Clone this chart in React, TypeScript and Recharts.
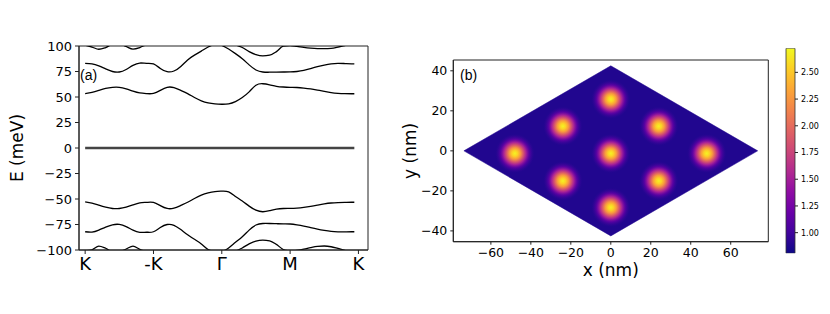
import React from 'react';
import {
  LineChart, Line, XAxis, YAxis, ReferenceArea, ComposedChart, Area, Scatter, BarChart, Bar,
} from 'recharts';

// ---------- Panel (a): band structure ----------
const kPoints = [0, 0.1, 0.2, 0.3, 0.4, 0.5, 0.6, 0.7, 0.8, 0.9, 1.0, 1.1, 1.2, 1.3, 1.4, 1.5, 1.6, 1.7, 1.8, 1.9, 2.0,
  2.1, 2.2, 2.3, 2.4, 2.5, 2.6, 2.7, 2.8, 2.9, 3.0, 3.1, 3.2, 3.3, 3.4, 3.5, 3.6, 3.7, 3.8, 3.9, 3.94];
const bandUp1 = [53.3, 54.5, 56.5, 58.5, 59.5, 59.5, 58, 55.8, 54, 53.3, 53.5, 56.5, 59.5, 59.2, 56.5, 53.3, 49.5, 46.3, 44.2, 43.2, 42.9,
  43.3, 45.5, 49.5, 55, 61.5, 63, 62, 60.5, 59.8, 59.5, 59.3, 58.8, 58, 56.8, 55.5, 54.3, 53.6, 53.3, 53.2, 53.2];
const bandUp2 = [83, 82.5, 80.5, 77.5, 75, 74.5, 77, 81, 83.3, 83, 82.4, 78, 74.8, 75.5, 80, 86.3, 91, 95, 99, 101.5, 100.5,
  97, 92.5, 87.5, 81.5, 76.5, 74.5, 74.3, 74.4, 74.5, 74.6, 75, 76, 77.8, 79.7, 81.3, 82.5, 83, 82.8, 82.5, 82.4];
const bandUp3 = [100.8, 99, 96.8, 98.5, 101.5, 102, 99.5, 97, 98.5, 101.5, 104, 108, 110, 110, 110, 110, 110, 110, 110, 110, 110,
  108, 101.5, 98.5, 94.5, 91.5, 90.3, 91, 94.5, 99.8, 100.4, 99.6, 98.6, 97.9, 97.5, 97.4, 97.7, 98.9, 100.5, 101.5, 101.5];
const flatBand = [0, 0, 0, 0, 0, 0, 0, 0, 0, 0, 0, 0, 0, 0, 0, 0, 0, 0, 0, 0, 0,
  0, 0, 0, 0, 0, 0, 0, 0, 0, 0, 0, 0, 0, 0, 0, 0, 0, 0, 0, 0];
const bandDn1 = [-52.8, -54, -56, -58, -59.3, -59.3, -58, -55.8, -53.8, -53.3, -53.4, -56.5, -59.3, -59, -56.3, -53.2, -49.5, -46.2, -44, -42.7, -42.3,
  -43, -47.5, -52, -57, -61, -62.5, -61.5, -60, -59.3, -59.2, -58.9, -58.2, -57.2, -56, -54.8, -53.9, -53.5, -53.3, -53.2, -53.2];
const bandDn2 = [-82.1, -82.5, -80.5, -77.5, -75.3, -74.9, -77, -80.5, -82.7, -82.6, -82.1, -78, -75, -75.8, -80, -85, -89.5, -94, -99.5, -101.5, -101.5,
  -98, -92.5, -87, -80.5, -75.5, -74, -74, -74.2, -74.4, -74.5, -75.3, -76.5, -78, -79.5, -80.8, -81.8, -82.2, -82.2, -82.1, -82.1];
const bandDn3 = [-100.8, -99.8, -96.2, -98.3, -101.5, -101.5, -99, -96.2, -99.3, -102, -104, -108, -110, -110, -110, -110, -110, -110, -110, -110, -110,
  -108, -101.5, -98, -94, -91.2, -90.3, -91, -94.5, -99.5, -100.8, -100.3, -99.2, -97.6, -96.4, -96.1, -96.8, -98.5, -100.3, -101.5, -101.5];
const kTicks = [0, 1, 2, 3, 4];
const kTickLabels = ['K', '-K', 'Γ', 'M', 'K'];
const energyTicks = [-100, -75, -50, -25, 0, 25, 50, 75, 100];

const bandTable = kPoints.map((k, i) => ({
  k,
  u1: bandUp1[i], u2: bandUp2[i], u3: bandUp3[i], z: flatBand[i],
  d1: bandDn1[i], d2: bandDn2[i], d3: bandDn3[i],
}));

// ---------- Panel (b): density map ----------
const rhombusX = [-73.5, 0, 73.5];
const rhombusLow = [0, -42.5, 0];
const rhombusHigh = [0, 42.5, 0];
const spotX = [0, -24, 24, -48, 0, 48, -24, 24, 0];
const spotY = [25.8, 12.3, 12.3, -1.3, -1.3, -1.3, -15, -15, -28.3];
const spotPeak = [2.65, 2.65, 2.65, 2.65, 2.65, 2.65, 2.65, 2.65, 2.65];
const xTicksNm = [-60, -40, -20, 0, 20, 40, 60];
const yTicksNm = [-40, -20, 0, 20, 40];

const rhombusTable = rhombusX.map((x, i) => ({ x, low: rhombusLow[i], high: rhombusHigh[i] }));
const spotTable = spotX.map((x, i) => ({ x, y: spotY[i], v: spotPeak[i] }));

// ---------- Colorbar ----------
const cbarMin = 0.807;
const cbarMax = 2.725;
const cbarTicks = [1.0, 1.25, 1.5, 1.75, 2.0, 2.25, 2.5];
const cbarTable = [{ name: 'cb', range: [cbarMin, cbarMax] }];

const plasmaStops = ['#0d0887', '#41049d', '#6a00a8', '#8f0da4', '#b12a90', '#cc4778', '#e16462', '#f2844b', '#fca636', '#fcce25', '#f0f921'];

const minus = (v: number) => (v < 0 ? '\u2212' + Math.abs(v) : String(v));
const DV = 'DejaVu Sans';

const SpotShape = (props: any) => {
  const { cx, cy } = props;
  if (cx == null || cy == null) return null;
  return <circle cx={cx} cy={cy} r={20} fill="url(#spotGrad)" />;
};

export default function App() {
  return (
    <div style={{ position: 'absolute', left: 0, top: 0, width: 830, height: 314, background: '#fff', overflow: 'hidden' }}>
      <svg width={0} height={0} style={{ position: 'absolute' }}>
        <defs>
          <linearGradient id="plasmaV" x1="0" y1="1" x2="0" y2="0">
            {plasmaStops.map((c, i) => (
              <stop key={i} offset={`${i * 10}%`} stopColor={c} />
            ))}
          </linearGradient>
          <radialGradient id="spotGrad" cx="50%" cy="50%" r="50%">
            <stop offset="0%" stopColor="#f3f424" />
            <stop offset="14%" stopColor="#fcd225" />
            <stop offset="28%" stopColor="#f89a3e" />
            <stop offset="42%" stopColor="#d8576b" />
            <stop offset="56%" stopColor="#a62098" />
            <stop offset="72%" stopColor="#6a00a8" stopOpacity={0.75} />
            <stop offset="88%" stopColor="#41049d" stopOpacity={0.35} />
            <stop offset="100%" stopColor="#21068f" stopOpacity={0} />
          </radialGradient>
        </defs>
      </svg>

      {/* Panel (a) */}
      <div style={{ position: 'absolute', left: 0, top: 0 }}>
        <LineChart width={380} height={300} data={bandTable} margin={{ top: 46, right: 12, bottom: 20, left: 0 }}>
          <XAxis
            type="number" dataKey="k" domain={[-0.09, 4.14]} ticks={kTicks} allowDataOverflow
            tickFormatter={(v: number, i: number) => kTickLabels[i]}
            tick={{ fill: '#000', fontSize: 18, fontFamily: DV }} tickSize={4} tickMargin={3}
            axisLine={{ stroke: '#222' }} tickLine={{ stroke: '#222' }} height={30}
          />
          <YAxis
            type="number" domain={[-100, 100]} ticks={energyTicks} allowDataOverflow width={79}
            tickFormatter={minus}
            tick={{ fill: '#000', fontSize: 13, fontFamily: DV }} tickSize={4} tickMargin={3}
            axisLine={{ stroke: '#222' }} tickLine={{ stroke: '#222' }}
            label={{ value: 'E (meV)', angle: -90, position: 'center', dx: -22.5, style: { fontSize: 17, fill: '#000', fontFamily: DV } }}
          />
          <ReferenceArea
            x1={-0.09} x2={4.14} y1={-100} y2={100} fill="none" stroke="#222" strokeWidth={1} ifOverflow="visible"
            label={{ value: '(a)', position: 'insideTopLeft', offset: 0, dx: 1, dy: 24.5, style: { fontSize: 14, fill: '#000', fontFamily: 'Liberation Sans' } }}
          />
          <Line dataKey="z" type="linear" stroke="#444" strokeWidth={2.3} dot={false} isAnimationActive={false} />
          <Line dataKey="u1" type="natural" stroke="#000" strokeWidth={1.3} dot={false} isAnimationActive={false} />
          <Line dataKey="u2" type="natural" stroke="#000" strokeWidth={1.3} dot={false} isAnimationActive={false} />
          <Line dataKey="u3" type="monotone" stroke="#000" strokeWidth={1.3} dot={false} isAnimationActive={false} />
          <Line dataKey="d1" type="natural" stroke="#000" strokeWidth={1.3} dot={false} isAnimationActive={false} />
          <Line dataKey="d2" type="natural" stroke="#000" strokeWidth={1.3} dot={false} isAnimationActive={false} />
          <Line dataKey="d3" type="monotone" stroke="#000" strokeWidth={1.3} dot={false} isAnimationActive={false} />
        </LineChart>
      </div>

      {/* Panel (b) */}
      <div style={{ position: 'absolute', left: 400, top: 0 }}>
        <ComposedChart width={380} height={300} data={rhombusTable} margin={{ top: 60, right: 11.7, bottom: 0, left: 0 }}>
          <XAxis
            type="number" dataKey="x" domain={[-78.8, 78.8]} ticks={xTicksNm} allowDataOverflow height={58.3}
            tickFormatter={minus}
            tick={{ fill: '#000', fontSize: 12.5, fontFamily: DV }} tickSize={3} tickMargin={3}
            axisLine={{ stroke: '#222' }} tickLine={{ stroke: '#222' }}
            label={{ value: 'x (nm)', position: 'center', dy: -1, style: { fontSize: 17, fill: '#000', fontFamily: DV } }}
          />
          <YAxis
            type="number" dataKey="y" domain={[-45.4, 45.4]} ticks={yTicksNm} allowDataOverflow width={53.3}
            tickFormatter={minus}
            tick={{ fill: '#000', fontSize: 12.5, fontFamily: DV }} tickSize={3} tickMargin={3}
            axisLine={{ stroke: '#222' }} tickLine={{ stroke: '#222' }}
            label={{ value: 'y (nm)', angle: -90, position: 'center', dx: -16.7, style: { fontSize: 17, fill: '#000', fontFamily: DV } }}
          />
          <Area
            dataKey={(d: any) => [d.low, d.high]} type="linear" stroke="#21068f" strokeWidth={0.5}
            fill="#21068f" fillOpacity={1} isAnimationActive={false}
          />
          <Scatter data={spotTable} dataKey="y" shape={SpotShape} isAnimationActive={false} />
          <ReferenceArea
            x1={-78.8} x2={78.8} y1={-45.4} y2={45.4} fill="none" stroke="#222" strokeWidth={1} ifOverflow="visible"
            label={{ value: '(b)', position: 'insideTopLeft', offset: 0, dx: 6.7, dy: 10, style: { fontSize: 14, fill: '#000', fontFamily: 'Liberation Sans' } }}
          />
        </ComposedChart>
      </div>

      {/* Colorbar */}
      <div style={{ position: 'absolute', left: 760, top: 0 }}>
        <BarChart width={70} height={314} data={cbarTable} margin={{ top: 48.3, right: 0, bottom: 60.7, left: 25 }} barCategoryGap={0}>
          <XAxis dataKey="name" hide />
          <YAxis
            orientation="right" type="number" domain={[cbarMin, cbarMax]} ticks={cbarTicks} allowDataOverflow width={35}
            tickFormatter={(v: number) => v.toFixed(2)}
            tick={{ fill: '#000', fontSize: 8, fontFamily: DV }} tickSize={3} tickMargin={3}
            axisLine={false} tickLine={{ stroke: '#222' }}
          />
          <Bar dataKey="range" barSize={10} fill="url(#plasmaV)" stroke="#333" strokeWidth={0.8} isAnimationActive={false} />
        </BarChart>
      </div>
    </div>
  );
}
